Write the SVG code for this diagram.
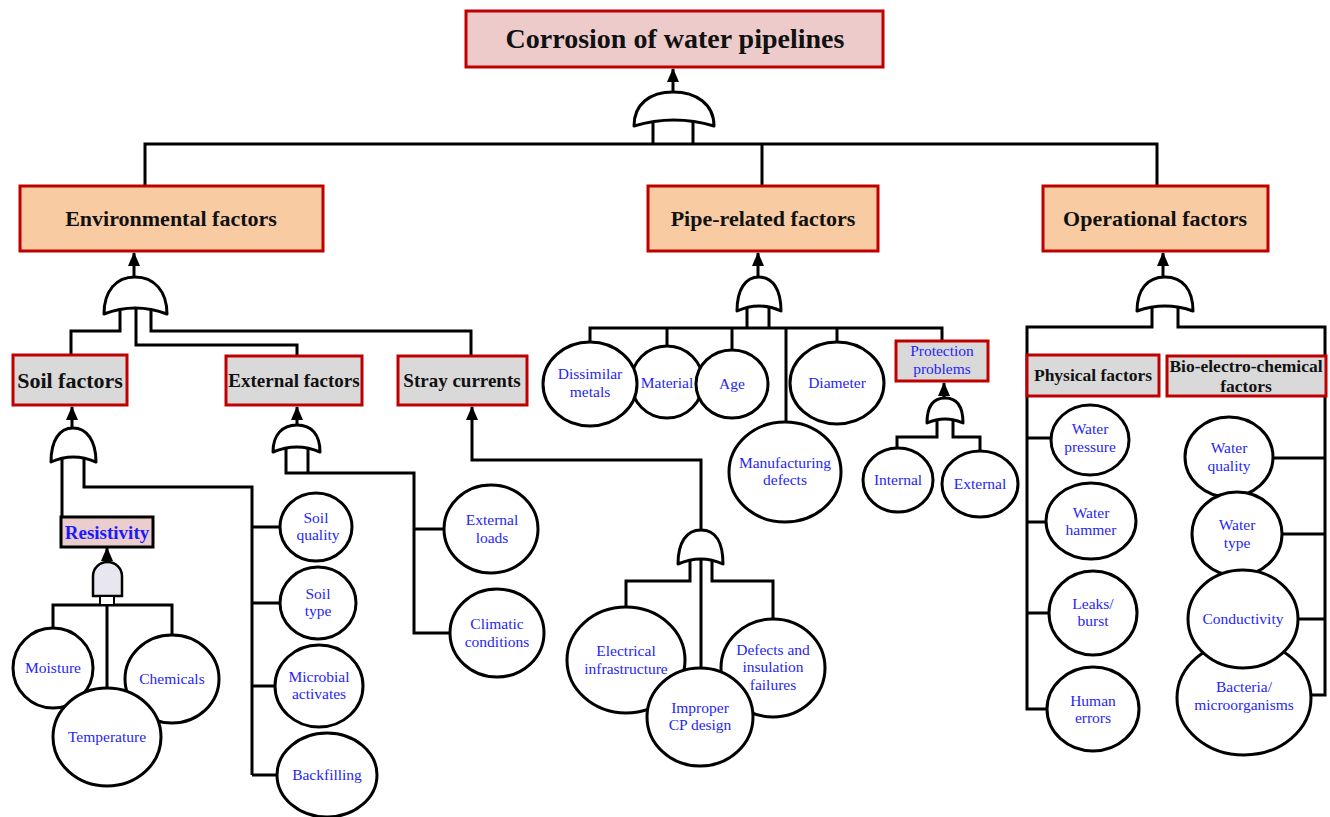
<svg xmlns="http://www.w3.org/2000/svg" width="1330" height="817" viewBox="0 0 1330 817">
<defs>
<marker id="ah" markerUnits="userSpaceOnUse" markerWidth="14" markerHeight="12" refX="13" refY="6" orient="auto" viewBox="0 0 14 12">
<path d="M0,0 L14,6 L0,12 Z" fill="#000"/>
</marker>
<style>
.ln{fill:none;stroke:#000;stroke-width:3;stroke-linejoin:miter}
.arr{fill:none;stroke:#000;stroke-width:3}
.gate{fill:#fff;stroke:#000;stroke-width:3;stroke-linejoin:round}
.box{stroke:#C00000;stroke-width:3}
.top{fill:#EDCBCB}
.main{fill:#F8CBA3}
.sub{fill:#D9D9D9}
.c{fill:#fff;stroke:#000;stroke-width:3}
.bt{font-family:"Liberation Serif",serif;font-weight:bold;fill:#111;text-anchor:middle}
.ct{font-family:"Liberation Serif",serif;font-size:15.5px;fill:#2626F5;text-anchor:middle}
</style>
</defs>
<rect width="1330" height="817" fill="#fff"/>

<g id="connectors">
<!-- top -->
<path class="ln" d="M145,186 V144 H1157 V186 M762,144 V186 M653,121 V144 M693,121 V144"/>
<path class="arr" d="M673,92 V69" marker-end="url(#ah)"/>
<!-- environmental -->
<path class="ln" d="M120,308 V331 H71 V355 M136,306 V345 H297 V356 M151,308 V331 H471 V356"/>
<path class="arr" d="M134,277 V253" marker-end="url(#ah)"/>
<!-- soil -->
<path class="arr" d="M72,428 V407" marker-end="url(#ah)"/>
<path class="ln" d="M62,445 V517 M84,457 V487 H252 V775 M252,527 H281 M252,603 H281 M252,686 H275 M252,775 H277"/>
<!-- resistivity -->
<path class="arr" d="M107,562 V548" marker-end="url(#ah)"/>
<path class="ln" d="M53,628 V605 H172 V635 M107,605 V688"/>
<!-- external -->
<path class="arr" d="M297,425 V407" marker-end="url(#ah)"/>
<path class="ln" d="M286,437 V473 H414 V633 H450 M308,437 V473 M414,529 H445"/>
<!-- stray -->
<path class="arr" d="M701,530 V460 H472 V407" marker-end="url(#ah)"/>
<path class="ln" d="M690,559 V581 H626 V607 M701,557 V668 M712,559 V581 H773 V618"/>
<!-- pipe -->
<path class="arr" d="M758,277 V253" marker-end="url(#ah)"/>
<path class="ln" d="M747,306 V328 M769,306 V328 M590,342 V328 H942 V341 M667,328 V347 M732,328 V350 M786,328 V425 M837,328 V342"/>
<!-- protection -->
<path class="arr" d="M944,398 V383" marker-end="url(#ah)"/>
<path class="ln" d="M937,419 V437 H897 V449 M953,419 V437 H980 V451"/>
<!-- operational -->
<path class="arr" d="M1163,277 V253" marker-end="url(#ah)"/>
<path class="ln" d="M1152,306 V327 H1027 V709 H1050 M1178,306 V327 H1325 V695 H1310 M1027,438 H1052 M1027,522 H1047 M1027,613 H1050 M1325,458 H1272 M1325,534 H1281 M1325,619 H1297"/>
</g>

<g id="gates">
<path id="g-top" class="gate" d="M634,126 C634,104 650,92 673,92 C696,92 714,104 714,126 Q674,114 634,126 Z"/>
<path id="g-env" class="gate" d="M104,314 C104,291 116,277 135,277 C154,277 167,291 167,314 Q135,302 104,314 Z"/>
<path id="g-soil" class="gate" d="M51,462 C51,441 59,428 73,428 C87,428 96,441 96,462 Q73,452 51,462 Z"/>
<path id="g-ext" class="gate" d="M273,452 C273,435 282,425 297,425 C312,425 320,435 320,452 Q297,442 273,452 Z"/>
<path id="g-stray" class="gate" d="M678,564 C678,543 686,530 701,530 C716,530 723,543 723,564 Q701,554 678,564 Z"/>
<path id="g-pipe" class="gate" d="M737,311 C737,290 745,277 759,277 C773,277 781,290 781,311 Q759,301 737,311 Z"/>
<path id="g-prot" class="gate" d="M927,423 C927,407 933,398 945,398 C957,398 963,407 963,423 Q945,415 927,423 Z"/>
<path id="g-oper" class="gate" d="M1137,311 C1137,290 1147,277 1165,277 C1183,277 1193,290 1193,311 Q1165,301 1137,311 Z"/>
<g id="g-res">
<path d="M93,596 V576 A14.5,14 0 0 1 122,576 V596 Z" fill="#E8E6EE" stroke="#000" stroke-width="2.5"/>
<rect x="100" y="596" width="14" height="9" fill="#fff" stroke="#000" stroke-width="2"/>
</g>
</g>

<g id="n-title"><rect class="box top" x="466" y="11" width="417" height="56"/><text class="bt" x="675" y="48" font-size="28">Corrosion of water pipelines</text></g>
<g id="n-env"><rect class="box main" x="20" y="186" width="303" height="65"/><text class="bt" x="171" y="226" font-size="22">Environmental factors</text></g>
<g id="n-pipe"><rect class="box main" x="648" y="186" width="230" height="65"/><text class="bt" x="763" y="226" font-size="22">Pipe-related factors</text></g>
<g id="n-oper"><rect class="box main" x="1043" y="186" width="225" height="65"/><text class="bt" x="1155" y="226" font-size="22">Operational factors</text></g>

<g id="n-soil"><rect class="box sub" x="13" y="355" width="114" height="50"/><text class="bt" x="70" y="388" font-size="22">Soil factors</text></g>
<g id="n-external"><rect class="box sub" x="226" y="356" width="136" height="49"/><text class="bt" x="294" y="387" font-size="19">External factors</text></g>
<g id="n-stray"><rect class="box sub" x="398" y="356" width="129" height="49"/><text class="bt" x="462" y="387" font-size="19">Stray currents</text></g>
<g id="n-res"><rect x="61" y="517" width="92" height="30" fill="#EBCDCD" stroke="#000" stroke-width="3"/><text class="bt" x="107" y="539" font-size="19" style="fill:#1a1aff">Resistivity</text></g>

<g id="n-moisture"><ellipse class="c" cx="53" cy="668" rx="40" ry="40"/><text class="ct" x="53" y="673">Moisture</text></g>
<g id="n-chemicals"><ellipse class="c" cx="172" cy="679" rx="47" ry="44"/><text class="ct" x="172" y="684">Chemicals</text></g>
<g id="n-temperature"><ellipse class="c" cx="107" cy="737" rx="54" ry="49"/><text class="ct" x="107" y="742">Temperature</text></g>

<g id="n-soilq"><ellipse class="c" cx="316" cy="527" rx="36" ry="34"/><text class="ct" x="316" y="523">Soil</text><text class="ct" x="318" y="540">quality</text></g>
<g id="n-soilt"><ellipse class="c" cx="318" cy="603" rx="38" ry="36"/><text class="ct" x="318" y="599">Soil</text><text class="ct" x="318" y="616">type</text></g>
<g id="n-micro"><ellipse class="c" cx="319" cy="686" rx="44" ry="41"/><text class="ct" x="319" y="682">Microbial</text><text class="ct" x="319" y="699">activates</text></g>
<g id="n-back"><ellipse class="c" cx="327" cy="775" rx="50" ry="42"/><text class="ct" x="327" y="780">Backfilling</text></g>

<g id="n-loads"><ellipse class="c" cx="491" cy="529" rx="47" ry="44"/><text class="ct" x="492" y="525">External</text><text class="ct" x="492" y="543">loads</text></g>
<g id="n-climatic"><ellipse class="c" cx="497" cy="633" rx="47" ry="44"/><text class="ct" x="497" y="629">Climatic</text><text class="ct" x="497" y="647">conditions</text></g>

<g id="n-elec"><ellipse class="c" cx="626" cy="660" rx="59" ry="53"/><text class="ct" x="626" y="656">Electrical</text><text class="ct" x="626" y="674">infrastructure</text></g>
<g id="n-defects"><ellipse class="c" cx="773" cy="668" rx="52" ry="49"/><text class="ct" x="773" y="655">Defects and</text><text class="ct" x="773" y="672">insulation</text><text class="ct" x="773" y="690">failures</text></g>
<g id="n-cp"><ellipse class="c" cx="700" cy="717" rx="53" ry="49"/><text class="ct" x="700" y="713">Improper</text><text class="ct" x="700" y="730">CP design</text></g>

<g id="n-material"><ellipse class="c" cx="667" cy="382" rx="36" ry="36"/><text class="ct" x="667" y="388">Material</text></g>
<g id="n-dissimilar"><ellipse class="c" cx="590" cy="384" rx="47" ry="42"/><text class="ct" x="590" y="379">Dissimilar</text><text class="ct" x="590" y="397">metals</text></g>
<g id="n-age"><ellipse class="c" cx="732" cy="384" rx="36" ry="34"/><text class="ct" x="732" y="389">Age</text></g>
<g id="n-diameter"><ellipse class="c" cx="837" cy="383" rx="47" ry="41"/><text class="ct" x="837" y="388">Diameter</text></g>
<g id="n-manuf"><ellipse class="c" cx="785" cy="472" rx="56" ry="50"/><text class="ct" x="785" y="468" font-size="13.5">Manufacturing</text><text class="ct" x="785" y="485" font-size="13.5">defects</text></g>
<g id="n-prot"><rect class="box sub" x="896" y="341" width="92" height="40"/><text class="ct" x="942" y="356" font-size="15">Protection</text><text class="ct" x="942" y="374" font-size="15">problems</text></g>
<g id="n-internal"><ellipse class="c" cx="898" cy="480" rx="35" ry="32"/><text class="ct" x="898" y="485">Internal</text></g>
<g id="n-externalp"><ellipse class="c" cx="980" cy="484" rx="38" ry="33"/><text class="ct" x="980" y="489">External</text></g>

<g id="n-phys"><rect class="box sub" x="1027" y="355" width="132" height="41"/><text class="bt" x="1093" y="381" font-size="17.5">Physical factors</text></g>
<g id="n-bio"><rect class="box sub" x="1167" y="356" width="159" height="40"/><text class="bt" x="1246" y="372" font-size="17.5">Bio-electro-chemical</text><text class="bt" x="1246" y="392" font-size="17.5">factors</text></g>

<g id="n-wp"><ellipse class="c" cx="1090" cy="440" rx="39" ry="35"/><text class="ct" x="1090" y="434">Water</text><text class="ct" x="1090" y="452">pressure</text></g>
<g id="n-wh"><ellipse class="c" cx="1091" cy="521" rx="45" ry="38"/><text class="ct" x="1091" y="518">Water</text><text class="ct" x="1091" y="535">hammer</text></g>
<g id="n-leaks"><ellipse class="c" cx="1093" cy="613" rx="44" ry="42"/><text class="ct" x="1093" y="609">Leaks/</text><text class="ct" x="1093" y="626">burst</text></g>
<g id="n-human"><ellipse class="c" cx="1093" cy="709" rx="46" ry="42"/><text class="ct" x="1093" y="706">Human</text><text class="ct" x="1093" y="723">errors</text></g>

<g id="n-wq"><ellipse class="c" cx="1229" cy="457" rx="44" ry="40"/><text class="ct" x="1229" y="453">Water</text><text class="ct" x="1229" y="471">quality</text></g>
<g id="n-wt"><ellipse class="c" cx="1237" cy="534" rx="45" ry="42"/><text class="ct" x="1237" y="530">Water</text><text class="ct" x="1237" y="548">type</text></g>
<g id="n-bact"><ellipse class="c" cx="1244" cy="698" rx="67" ry="57"/><text class="ct" x="1244" y="692">Bacteria/</text><text class="ct" x="1244" y="710">microorganisms</text></g>
<g id="n-cond"><ellipse class="c" cx="1243" cy="619" rx="55" ry="49"/><text class="ct" x="1243" y="624">Conductivity</text></g>
</svg>
